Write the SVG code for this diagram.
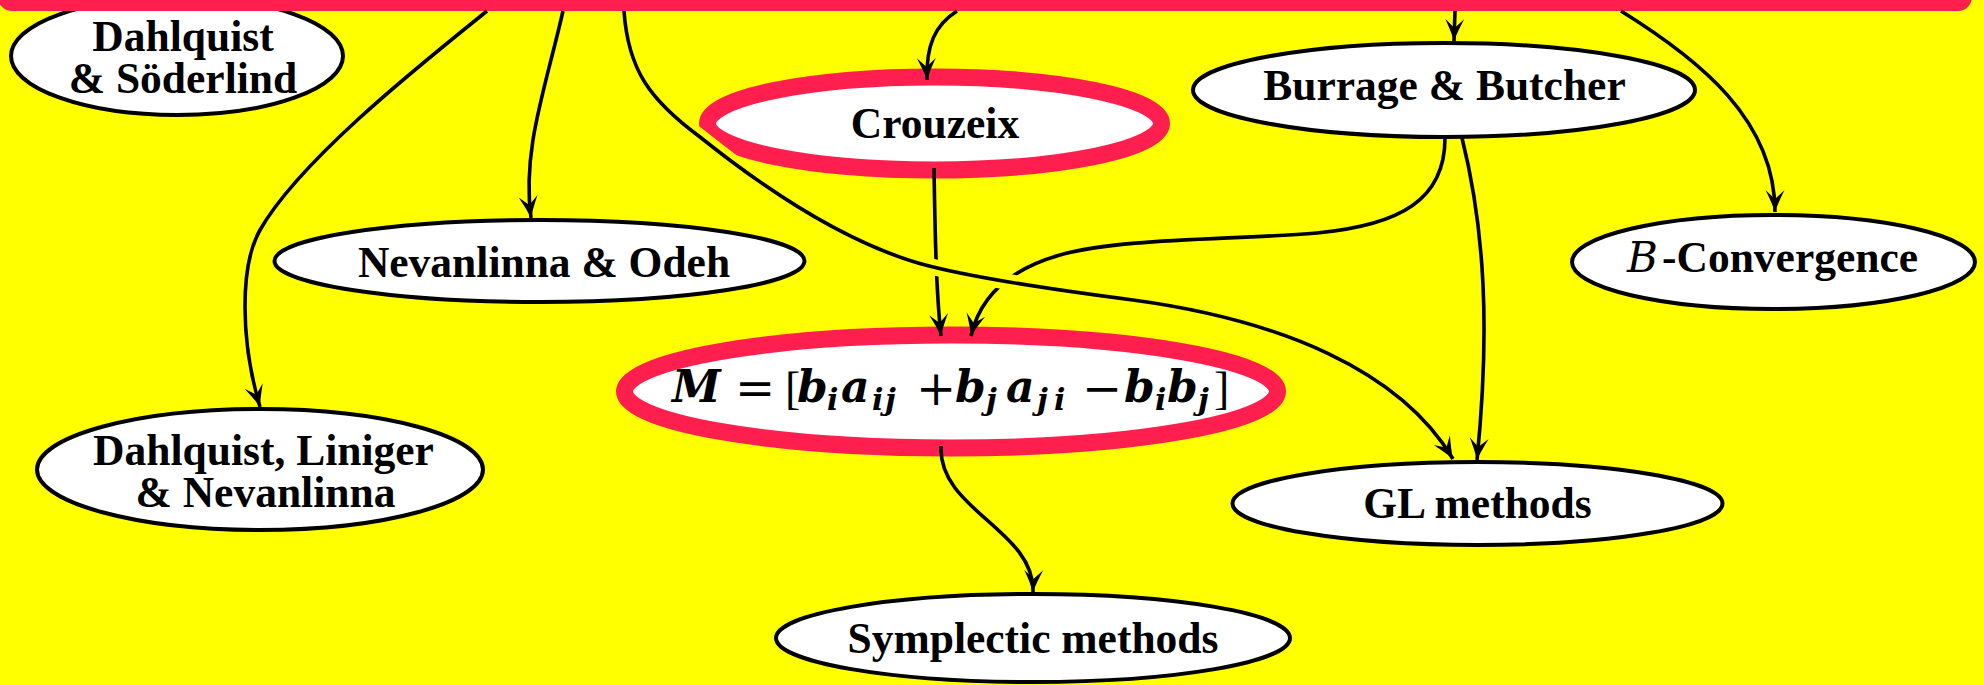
<svg xmlns="http://www.w3.org/2000/svg" width="1984" height="685" viewBox="0 0 1984 685">
<style>
.bg{fill:#ffff00}
.node ellipse{fill:#ffffff;stroke:#000000;stroke-width:4}
.red ellipse{stroke:#ff1f4f;stroke-width:17}
.lbl{font-family:"Liberation Serif","Times New Roman",serif;font-weight:bold;font-size:43.5px;text-anchor:middle;fill:#000}
.edge{fill:none;stroke:#000;stroke-width:3.6;marker-end:url(#arr)}
.halo{fill:none;stroke:#ffff00;stroke-width:16}
.math{font-family:"DejaVu Serif",serif;fill:#000}
.mi{font-style:italic;font-weight:bold;font-size:44px}
.sub{font-style:italic;font-weight:bold;font-size:30px}
.op{font-style:normal;font-weight:normal;font-size:48px}
.br{font-family:"Liberation Serif",serif;font-style:normal;font-weight:normal;font-size:46px}
</style>
<defs>
<marker id="arr" markerUnits="userSpaceOnUse" viewBox="-24 -12 28 24" markerWidth="28" markerHeight="24" refX="0" refY="0" orient="auto">
<path d="M0,0 Q-9,-3 -22,-9.5 L-13,0 L-22,9.5 Q-9,3 0,0 Z" fill="#000"/>
</marker>
<clipPath id="haloclip"><rect x="0" y="16" width="1984" height="420"/></clipPath>
</defs>
<rect class="bg" x="0" y="0" width="1984" height="685"/>

<g id="dahlquist-soderlind" class="node">
<ellipse cx="177" cy="56" rx="166" ry="59"/>
<text class="lbl" x="183" y="51">Dahlquist</text>
<text class="lbl" x="183" y="93">&amp; Söderlind</text>
</g>

<g id="top">
<rect x="-2" y="-40" width="1974" height="51" rx="14" ry="14" fill="#ff1f4f"/>
</g>

<g id="nevanlinna-odeh" class="node">
<ellipse cx="539.5" cy="261" rx="265" ry="41"/>
<text class="lbl" x="544" y="277">Nevanlinna &amp; Odeh</text>
</g>

<g id="crouzeix" class="node red">
<ellipse cx="934.5" cy="123.5" rx="227" ry="46.5"/>
<text class="lbl" x="935" y="138">Crouzeix</text>
</g>

<g id="burrage-butcher" class="node">
<ellipse cx="1444" cy="90" rx="251" ry="47"/>
<text class="lbl" x="1444.5" y="100">Burrage &amp; Butcher</text>
</g>

<g id="b-convergence" class="node">
<ellipse cx="1773.5" cy="262" rx="201.5" ry="47"/>
<text y="272" style="fill:#000"><tspan x="1627" style="font-family:'DejaVu Serif',serif;font-style:italic;font-size:42px">B</tspan><tspan x="1662" style="font-family:'Liberation Serif',serif;font-weight:bold;font-size:43.5px">-Convergence</tspan></text>
</g>

<g id="m-matrix" class="node red">
<ellipse cx="951" cy="391.5" rx="326.5" ry="56.5"/>
<text class="math"><tspan class="mi" x="672" y="402">M</tspan><tspan class="op" x="735" y="405">=</tspan><tspan class="br" x="785" y="404">[</tspan><tspan class="mi" x="797" y="402">b</tspan><tspan class="sub" x="827" y="410">i</tspan><tspan class="mi" x="841" y="402">a</tspan><tspan class="sub" x="872" y="410">i</tspan><tspan class="sub" x="885" y="410">j</tspan><tspan class="op" x="916" y="405">+</tspan><tspan class="mi" x="955" y="402">b</tspan><tspan class="sub" x="986" y="410">j</tspan><tspan class="mi" x="1006" y="402">a</tspan><tspan class="sub" x="1037" y="410">j</tspan><tspan class="sub" x="1054" y="410">i</tspan><tspan class="op" x="1082" y="405">−</tspan><tspan class="mi" x="1124" y="402">b</tspan><tspan class="sub" x="1155" y="410">i</tspan><tspan class="mi" x="1167" y="402">b</tspan><tspan class="sub" x="1198" y="410">j</tspan><tspan class="br" x="1214" y="404">]</tspan></text>
</g>

<g id="dahlquist-liniger-nevanlinna" class="node">
<ellipse cx="260" cy="469.5" rx="223" ry="60.5"/>
<text class="lbl" x="263.5" y="465">Dahlquist, Liniger</text>
<text class="lbl" x="265.5" y="507">&amp; Nevanlinna</text>
</g>

<g id="gl-methods" class="node">
<ellipse cx="1477.5" cy="503.5" rx="245" ry="41.5"/>
<text class="lbl" x="1477.5" y="518">GL methods</text>
</g>

<g id="symplectic" class="node">
<ellipse cx="1033" cy="638" rx="257" ry="44"/>
<text class="lbl" x="1033" y="653">Symplectic methods</text>
</g>

<g id="connectors">
<path class="edge" d="M487,11 C420,65 300,160 260,230 C240,265 240,340 260,407"/>
<path class="edge" d="M563,11 C545,90 522,150 531,218"/>
<path class="edge" d="M957,11 C935,25 926,45 927,80"/>
<path class="edge" d="M1455,11 L1454,41"/>
<path class="edge" d="M1621,11 C1700,60 1775,120 1775,212"/>
<path class="edge" d="M934,168 C935,230 936,290 941,336"/>
<path class="edge" d="M1445,138 C1445,200 1400,225 1317,233 C1230,240 1120,238 1060,255 C1000,272 978,305 971,336"/>
<path class="edge" d="M1462,138 C1485,230 1490,330 1477,460"/>
<path class="edge" d="M941,446 C938,510 1035,530 1033,592"/>
<path class="halo" clip-path="url(#haloclip)" d="M624,11 C628,70 650,100 700,137 C760,185 840,240 918,263 C960,275 1040,288 1133,300 C1280,320 1400,370 1453,459"/>
<path class="edge" d="M624,11 C628,70 650,100 700,137 C760,185 840,240 918,263 C960,275 1040,288 1133,300 C1280,320 1400,370 1453,459"/>
</g>
</svg>
